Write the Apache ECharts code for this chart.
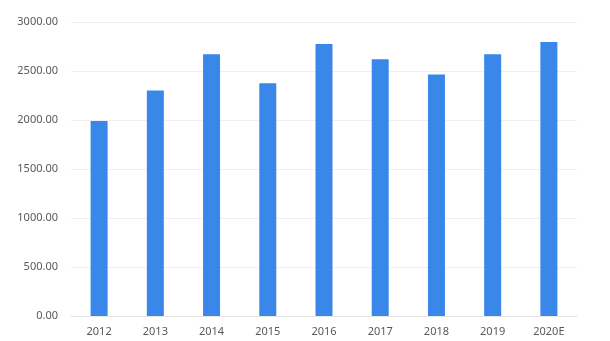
<!DOCTYPE html>
<html><head><meta charset="utf-8">
<script src="https://cdn.jsdelivr.net/npm/echarts@6/dist/echarts.min.js"></script>
<style>html,body{margin:0;padding:0;background:#fff}#c{width:610px;height:341px}</style>
</head><body><div id="c"></div>
<script>
const categories = ['2012','2013','2014','2015','2016','2017','2018','2019','2020E'];
const values = [1990, 2300, 2670, 2375, 2775, 2620, 2465, 2670, 2795];
const yTicks = {min: 0, max: 3000, interval: 500};

const chart = echarts.init(document.getElementById('c'));
chart.setOption({
  animation: false,
  grid: {left: 71, right: 33, top: 22, bottom: 25, containLabel: false},
  xAxis: {
    type: 'category', data: categories,
    axisLine: {show: true, lineStyle: {color: '#e6e6e6'}},
    axisTick: {show: false},
    axisLabel: {color: '#595959', fontSize: 11, fontFamily: 'Noto Sans', margin: 10}
  },
  yAxis: {
    type: 'value', min: yTicks.min, max: yTicks.max, interval: yTicks.interval,
    axisLine: {show: false}, axisTick: {show: false},
    splitLine: {lineStyle: {color: '#efefef'}},
    axisLabel: {color: '#595959', fontSize: 11, fontFamily: 'Noto Sans', margin: 13,
      formatter: v => v.toFixed(2)}
  },
  series: [{
    type: 'bar', data: values, barWidth: 17,
    itemStyle: {color: '#3a87ea'}
  }]
});
</script></body></html>
